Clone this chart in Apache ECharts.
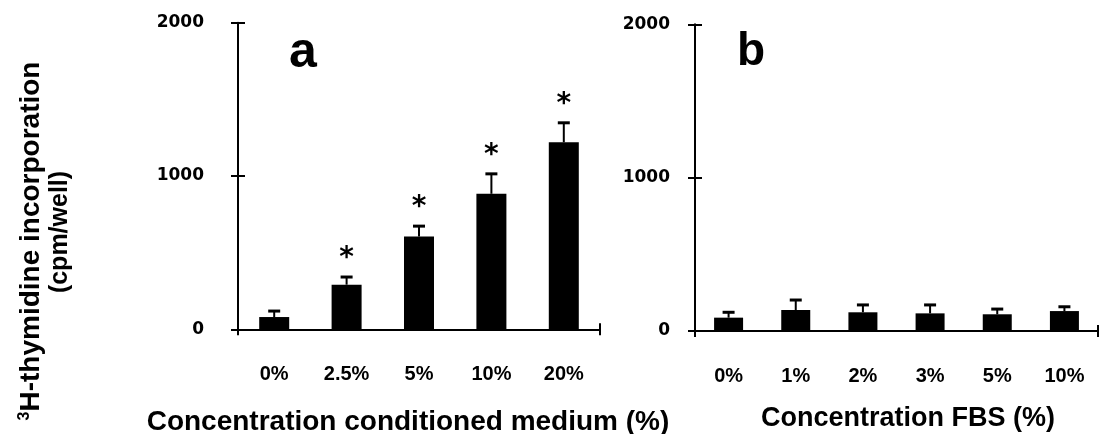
<!DOCTYPE html>
<html>
<head>
<meta charset="utf-8">
<script src="https://cdn.jsdelivr.net/npm/echarts@6/dist/echarts.min.js"></script>
<style>
  html, body { margin: 0; padding: 0; background: #fff; }
  #chart { width: 1099px; height: 434px; }
</style>
</head>
<body>
<div id="chart"></div>
<script>
// Panel a: proliferation vs. conditioned medium concentration
const catsA = ['0%', '2.5%', '5%', '10%', '20%'];
const meanA = [80, 291, 606, 884, 1220];
const errA  = [39, 50, 67, 130, 127];
const sigA  = [false, true, true, true, true];

// Panel b: proliferation vs. FBS concentration
const catsB = ['0%', '1%', '2%', '3%', '5%', '10%'];
const meanB = [87, 137, 122, 115, 109, 130];
const errB  = [35, 65, 48, 55, 34, 28];
const sigB  = [false, false, false, false, false, false];

// Shared value scale (cpm/well)
const yMin = 0, yMax = 2000, yStep = 1000;

const WIDE = 'DejaVu Sans';
const SANS = 'Liberation Sans';

const chart = echarts.init(document.getElementById('chart'), null, { renderer: 'canvas' });

// error bar with cap, plus an asterisk above significant means
function errorBars(params, api) {
  const i = api.value(0), m = api.value(1), e = api.value(2), s = api.value(3);
  const base = api.coord([i, m]);
  const top = api.coord([i, m + e]);
  const children = [
    { type: 'line', shape: { x1: base[0], y1: base[1], x2: top[0], y2: top[1] },
      style: { stroke: '#000', lineWidth: 2 } },
    { type: 'line', shape: { x1: top[0] - 6, y1: top[1], x2: top[0] + 6, y2: top[1] },
      style: { stroke: '#000', lineWidth: 3 } }
  ];
  if (s) {
    children.push({ type: 'text', x: top[0], y: top[1] - 18,
      style: { text: '*', fill: '#000', font: 'bold 28px "' + WIDE + '"',
               align: 'center', verticalAlign: 'middle' } });
  }
  return { type: 'group', children };
}

function catAxis(gridIndex, cats) {
  return {
    type: 'category', gridIndex, data: cats, position: 'bottom',
    axisLine: { show: true, lineStyle: { color: '#000', width: 2 } },
    axisTick: { show: false },
    axisLabel: { color: '#000', fontFamily: SANS, fontWeight: 'bold', fontSize: 20, margin: 35 },
    splitLine: { show: false }
  };
}
// short crossing ticks at both ends of the category axis
function endTicks(gridIndex, inside) {
  return {
    type: 'value', gridIndex, min: 0, max: 1, interval: 1, position: 'bottom',
    axisLine: { show: false },
    axisTick: { show: true, inside, length: 6, lineStyle: { color: '#000', width: 2 } },
    axisLabel: { show: false }, splitLine: { show: false }
  };
}
function valAxis(gridIndex, inside, withLabels, labelMargin) {
  return {
    type: 'value', gridIndex, min: yMin, max: yMax, interval: yStep, position: 'left',
    axisLine: { show: !inside, lineStyle: { color: '#000', width: 2 } },
    axisTick: { show: true, inside, length: 7, lineStyle: { color: '#000', width: 2 } },
    axisLabel: { show: withLabels, color: '#000', fontFamily: WIDE, fontWeight: 'bold',
                 fontSize: 17, margin: labelMargin, formatter: v => String(v) },
    splitLine: { show: false }
  };
}

const heading = (text, left, top, size) => ({
  text, left, top, textAlign: 'center', padding: 0,
  textStyle: { fontFamily: SANS, fontWeight: 'bold', fontSize: size, color: '#000' }
});

const option = {
  backgroundColor: '#fff',
  animation: false,
  title: [
    heading('a', 303, 28, 50),
    heading('b', 751, 29, 46),
    heading('Concentration conditioned medium (%)', 408, 408, 28),
    heading('Concentration FBS (%)', 908, 405, 27)
  ],
  graphic: [
    { type: 'text', x: 31, y: 241, rotation: Math.PI / 2,
      style: {
        text: '{sup|3}{t|H-thymidine incorporation}',
        align: 'center', verticalAlign: 'middle',
        rich: {
          sup: { fontFamily: SANS, fontWeight: 'bold', fontSize: 16, verticalAlign: 'top', lineHeight: 28, fill: '#000' },
          t: { fontFamily: SANS, fontWeight: 'bold', fontSize: 28, lineHeight: 28, fill: '#000' }
        }
      } },
    { type: 'text', x: 60, y: 232, rotation: Math.PI / 2,
      style: { text: '(cpm/well)', fill: '#000', font: 'bold 25px "' + SANS + '"',
               align: 'center', verticalAlign: 'middle' } }
  ],
  grid: [
    { left: 238, top: 22.7, width: 362, height: 306.6 },
    { left: 695, top: 24.3, width: 403, height: 306.7 }
  ],
  xAxis: [
    catAxis(0, catsA), endTicks(0, false), endTicks(0, true),
    catAxis(1, catsB), endTicks(1, false), endTicks(1, true)
  ],
  yAxis: [
    valAxis(0, false, true, 34), valAxis(0, true, false, 0),
    valAxis(1, false, true, 25), valAxis(1, true, false, 0)
  ],
  series: [
    { type: 'bar', xAxisIndex: 0, yAxisIndex: 0, data: meanA, barWidth: 30,
      itemStyle: { color: '#000' } },
    { type: 'custom', xAxisIndex: 0, yAxisIndex: 0, renderItem: errorBars, z: 3,
      data: catsA.map((c, i) => [i, meanA[i], errA[i], sigA[i] ? 1 : 0]) },
    { type: 'bar', xAxisIndex: 3, yAxisIndex: 2, data: meanB, barWidth: 29,
      itemStyle: { color: '#000' } },
    { type: 'custom', xAxisIndex: 3, yAxisIndex: 2, renderItem: errorBars, z: 3,
      data: catsB.map((c, i) => [i, meanB[i], errB[i], sigB[i] ? 1 : 0]) }
  ]
};
chart.setOption(option);
</script>
</body>
</html>
